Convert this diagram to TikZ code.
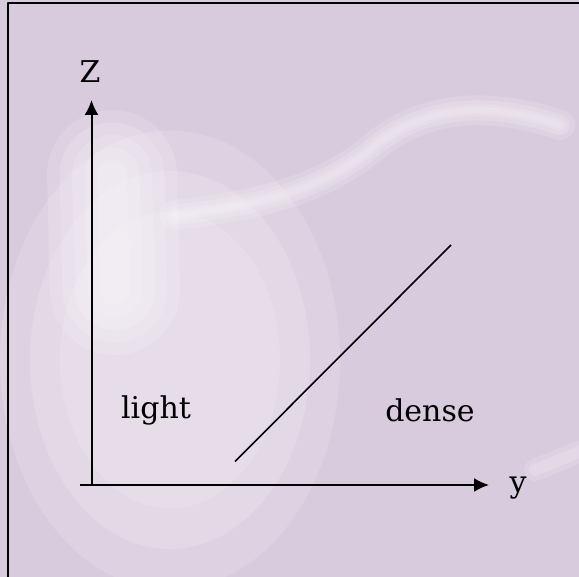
\documentclass[tikz,border=0pt]{standalone}
\usepackage{fontspec}
\setmainfont{DejaVu Serif}
\usepackage{tikz}
\usetikzlibrary{arrows.meta}
\definecolor{lavbg}{RGB}{217,203,222}

\begin{document}
\begin{tikzpicture}[x=1pt, y=-1pt, line cap=butt, line join=round,
  axis/.style={line width=2pt, -{Latex[length=15pt,width=14pt]}},
  lbl/.style={inner sep=0pt, font=\fontsize{30}{36}\selectfont},
  haze/.style={white, opacity=0.14, line cap=round, line join=round}]

  %% ════ 背景（底色 + 浅白纹理）════
  \fill[lavbg] (0,0) rectangle (579,577);
  % 左半边整体偏亮
  \foreach \r in {170,140,110}
    \fill[haze] (170,360) ellipse ({\r pt} and {\r pt*1.35});
  % 左侧亮区
  \foreach \w in {130,105,80,55,30}
    \draw[haze, line width=\w pt] (112,175) -- (115,290);
  % 白色弧形条纹
  \foreach \w in {30,20,12,6}
    \draw[haze, line width=\w pt]
        (175,215) .. controls (260,205) and (320,190) .. (370,150)
        .. controls (410,115) and (470,95) .. (560,125);
  \foreach \w in {22,12}
    \draw[haze, line width=\w pt] (535,470) -- (579,452);

  %% ════ 边框 ════
  \draw[line width=2pt] (8,590) -- (8,3.5) -- (590,3.5);

  %% ════ 坐标轴 ════
  \coordinate (o) at (91.5,485);
  \coordinate (left) at (80,485);
  \coordinate (ztip) at (91.5,100);
  \coordinate (ytip) at (489,485);
  \draw[line width=2pt] (left) -- (o);
  \draw[axis] (o) -- (ztip);
  \draw[axis] (o) -- (ytip);
  \node[lbl] (zlab) at (90,72) {Z};
  \node[lbl] (ylab) at (518,488) {y};

  %% ════ 分界线 ════
  \coordinate (dlow) at (235,461.5);
  \coordinate (dhigh) at (451,245);
  \draw[line width=1.6pt] (dlow) -- (dhigh);

  %% ════ 区域标签 ════
  \node[lbl] (light) at (156,410) {light};
  \node[lbl] (dense) at (430,410) {dense};

  \pgfresetboundingbox
  \path[use as bounding box] (0,0) rectangle (579,577);
\end{tikzpicture}
\end{document}
